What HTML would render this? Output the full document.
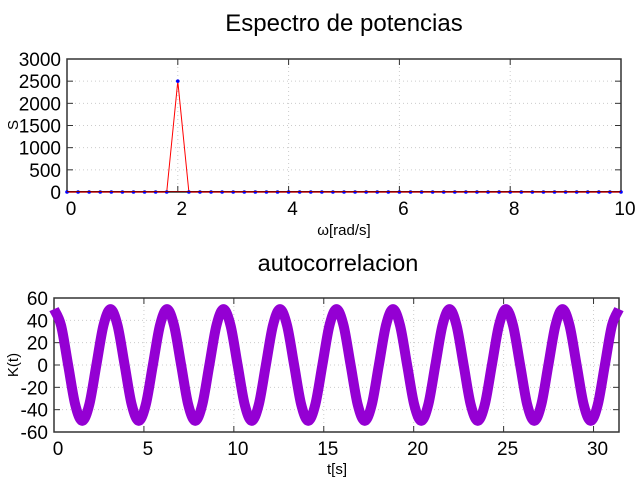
<!DOCTYPE html>
<html><head><meta charset="utf-8"><style>
body{margin:0;background:#fff;}
svg{display:block;font-family:"Liberation Sans",sans-serif;}
</style></head><body>
<svg id="c" width="640" height="480">
<text x="344" y="31" font-size="24" text-anchor="middle">Espectro de potencias</text>
<text x="338" y="271" font-size="23.5" text-anchor="middle">autocorrelacion</text>
<text x="344" y="235" font-size="15" text-anchor="middle">ω[rad/s]</text>
<text transform="translate(18,125) rotate(-90)" font-size="15" text-anchor="middle">S</text>
<text x="337" y="474" font-size="15" text-anchor="middle">t[s]</text>
<text transform="translate(18,365) rotate(-90)" font-size="15" text-anchor="middle">K(t)</text>
<g id="g1"></g>
<g id="g2"></g>
</svg>
<script>
// Spectrum data
const omegaValues = [0,0.2,0.4,0.6,0.8,1,1.2,1.4,1.6,1.8,2,2.2,2.4,2.6,2.8,3,3.2,3.4,3.6,3.8,4,4.2,4.4,4.6,4.8,5,5.2,5.4,5.6,5.8,6,6.2,6.4,6.6,6.8,7,7.2,7.4,7.6,7.8,8,8.2,8.4,8.6,8.8,9,9.2,9.4,9.6,9.8,10];
const powerValues = [0,0,0,0,0,0,0,0,0,0,2500,0,0,0,0,0,0,0,0,0,0,0,0,0,0,0,0,0,0,0,0,0,0,0,0,0,0,0,0,0,0,0,0,0,0,0,0,0,0,0,0];
const spectrumXTicks = [0,2,4,6,8,10];
const spectrumYTicks = [0,500,1000,1500,2000,2500,3000];
// Autocorrelation data (step = pi/8 s)
const autoStep = Math.PI/8;
const autoValues = [50,35.4,0,-35.4,-50,-35.4,0,35.4,50,35.4,0,-35.4,-50,-35.4,0,35.4,50,35.4,0,-35.4,-50,-35.4,0,35.4,50,35.4,0,-35.4,-50,-35.4,0,35.4,50,35.4,0,-35.4,-50,-35.4,0,35.4,50,35.4,0,-35.4,-50,-35.4,0,35.4,50,35.4,0,-35.4,-50,-35.4,0,35.4,50,35.4,0,-35.4,-50,-35.4,0,35.4,50,35.4,0,-35.4,-50,-35.4,0,35.4,50,35.4,0,-35.4,-50,-35.4,0,35.4,50];
const autoXTicks = [0,5,10,15,20,25,30];
const autoYTicks = [-60,-40,-20,0,20,40,60];

const NS="http://www.w3.org/2000/svg";
function mk(p,t,a){const e=document.createElementNS(NS,t);for(const k in a)e.setAttribute(k,a[k]);p.appendChild(e);return e;}

function axes(g,L,R,T,B,xs,ys,xt,yt,nm){
  for(const v of xt){const x=xs(v);
    if(x>L+1&&x<R-1){const l=mk(g,'line',{x1:x,x2:x,y1:T,y2:B,stroke:'#ccc','stroke-dasharray':'1,3'});
    }
    mk(g,'line',{x1:x,x2:x,y1:B,y2:B-6,stroke:'#333'});mk(g,'line',{x1:x,x2:x,y1:T,y2:T+6,stroke:'#333'});
    const t=mk(g,'text',{x:x+4,y:B+23,'font-size':19,'text-anchor':'middle'});t.textContent=v;
    }
  for(const v of yt){const y=ys(v);
    if(y>T+1&&y<B-1){const l=mk(g,'line',{x1:L,x2:R,y1:y,y2:y,stroke:'#ccc','stroke-dasharray':'1,3'});
    }
    mk(g,'line',{x1:L,x2:L+6,y1:y,y2:y,stroke:'#333'});mk(g,'line',{x1:R,x2:R-6,y1:y,y2:y,stroke:'#333'});
    const t=mk(g,'text',{x:L-6,y:y+7,'font-size':19,'text-anchor':'end'});t.textContent=v;
    }
  const r=mk(g,'rect',{x:L,y:T,width:R-L,height:B-T,fill:'none',stroke:'#333','stroke-width':1.5});
  
}
// Spectrum
{const g=document.getElementById('g1');const L=67,R=621,T=59,B=192;
 const xs=v=>L+(v-0)/10*(R-L), ys=v=>B-v/3000*(B-T);
 axes(g,L,R,T,B,xs,ys,spectrumXTicks,spectrumYTicks,'spectrum');
 const d=omegaValues.map((w,i)=>(i?'L':'M')+xs(w)+','+ys(powerValues[i])).join('');
 const p=mk(g,'path',{d:d,fill:'none',stroke:'#f00','stroke-width':1});
 
 omegaValues.forEach((w,i)=>{const c=mk(g,'circle',{cx:xs(w),cy:ys(powerValues[i]),r:1.8,fill:'#00f'});
  });
 mk(g,'line',{x1:L,x2:R,y1:B-0.5,y2:B-0.5,stroke:'#800','stroke-width':1});
}
// Autocorrelation
{const g=document.getElementById('g2');const L=54,R=619,T=298,B=432;
 const xmax=10*Math.PI;
 const xs=v=>L+v/xmax*(R-L), ys=v=>B-(v+60)/120*(B-T);
 axes(g,L,R,T,B,xs,ys,autoXTicks,autoYTicks,'autocorr');
 const P=autoValues.map((v,i)=>[xs(i*autoStep),ys(v)]);
 let d='M'+P[0][0]+','+P[0][1];
 for(let i=0;i<P.length-1;i++){const p0=P[Math.max(0,i-1)],p1=P[i],p2=P[i+1],p3=P[Math.min(P.length-1,i+2)];
  d+='C'+(p1[0]+(p2[0]-p0[0])/6)+','+(p1[1]+(p2[1]-p0[1])/6)+' '+(p2[0]-(p3[0]-p1[0])/6)+','+(p2[1]-(p3[1]-p1[1])/6)+' '+p2[0]+','+p2[1];}
 const p=mk(g,'path',{d:d,fill:'none',stroke:'#9400d3','stroke-width':10,'stroke-linejoin':'round'});
 
}
</script>
</body></html>
